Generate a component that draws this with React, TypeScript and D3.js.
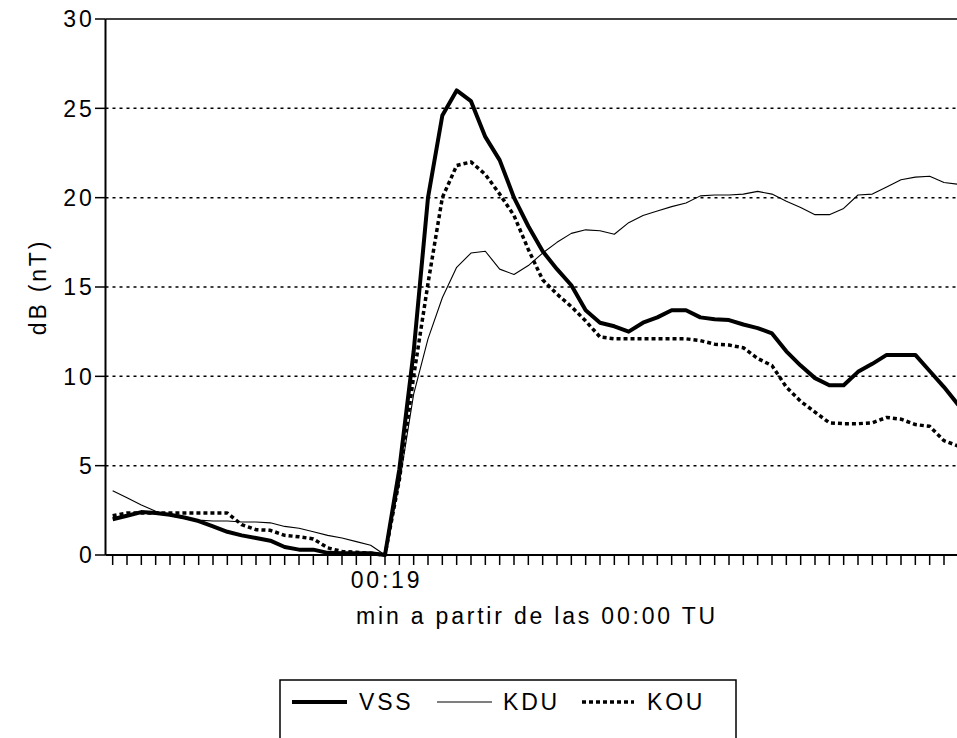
import React from "react";
import * as d3 from "d3";

// minute index after 00:00 TU
const minutes = d3.range(60);

const vss = [
  2.0, 2.2, 2.4, 2.35, 2.25, 2.1, 1.9, 1.6, 1.3, 1.1,
  0.95, 0.8, 0.45, 0.3, 0.3, 0.12, 0.1, 0.1, 0.1, 0.0,
  4.8, 11.4, 20.0, 24.6, 26.0, 25.4, 23.4, 22.1, 20.0, 18.4,
  17.0, 16.0, 15.1, 13.7, 13.0, 12.8, 12.5, 13.0, 13.3, 13.7,
  13.7, 13.3, 13.2, 13.15, 12.9, 12.7, 12.4, 11.4, 10.6, 9.9,
  9.5, 9.5, 10.25, 10.7, 11.2, 11.2, 11.2, 10.3, 9.4, 8.4,
];

const kdu = [
  3.6, 3.2, 2.8, 2.45, 2.2, 2.05, 1.95, 1.9, 1.9, 1.85,
  1.85, 1.8, 1.6, 1.5, 1.3, 1.1, 0.95, 0.75, 0.55, 0.0,
  4.0, 9.0, 12.1, 14.4, 16.1, 16.9, 17.0, 16.0, 15.7, 16.2,
  16.9, 17.5, 18.0, 18.2, 18.15, 17.95, 18.6, 19.0, 19.25, 19.5,
  19.7, 20.1, 20.15, 20.15, 20.2, 20.35, 20.2, 19.8, 19.45, 19.05,
  19.05, 19.4, 20.15, 20.2, 20.6, 21.0, 21.15, 21.2, 20.85, 20.75,
];

const kou = [
  2.2, 2.35, 2.35, 2.35, 2.35, 2.35, 2.35, 2.35, 2.35, 1.7,
  1.42, 1.38, 1.1, 1.02, 0.9, 0.4, 0.2, 0.15, 0.1, 0.0,
  4.2, 10.0, 15.2, 20.0, 21.8, 22.0, 21.3, 20.2, 19.0, 17.1,
  15.4, 14.6, 13.9, 13.1, 12.2, 12.1, 12.1, 12.1, 12.1, 12.1,
  12.1, 12.0, 11.8, 11.75, 11.6, 11.0, 10.6, 9.4, 8.6, 8.0,
  7.4, 7.35, 7.35, 7.4, 7.7, 7.6, 7.3, 7.2, 6.4, 6.1,
];

const yTicks = [0, 5, 10, 15, 20, 25, 30];
const gridValues = [5, 10, 15, 20, 25];
const xLabelMinutes = [19];
const xLabelTexts = ["00:19"];
const seriesNames = ["VSS", "KDU", "KOU"];
const yTitle = "dB (nT)";
const xTitle = "min a partir de las 00:00 TU";

const FONT = "'Liberation Sans', Arial, Helvetica, sans-serif";

export default function App() {
  const W = 957;
  const H = 738;
  const x = d3.scaleLinear().domain([-0.5, 59.5]).range([105.5, 965.5]);
  const y = d3.scaleLinear().domain([0, 30]).range([555, 19]);

  const mkLine = (vals: number[]) =>
    d3
      .line<number>()
      .x((_, i) => x(minutes[i]))
      .y((d) => y(d))(vals) || "";

  const styles = [
    { data: vss, sw: 4, dash: undefined as string | undefined },
    { data: kdu, sw: 1.1, dash: undefined as string | undefined },
    { data: kou, sw: 3.5, dash: "4,3" },
  ];

  const textStyle = {
    fontFamily: FONT,
    fontSize: 23,
    letterSpacing: "2.8px",
    fill: "#000",
  } as React.CSSProperties;

  const legendItems = [
    { x1: 292, x2: 347, tx: 359 },
    { x1: 437, x2: 492, tx: 503 },
    { x1: 582, x2: 634, tx: 647 },
  ];

  return (
    <svg
      width={W}
      height={H}
      style={{ position: "absolute", left: 0, top: 0, background: "#fff" }}
    >
      <rect x={0} y={0} width={W} height={H} fill="#fff" />
      {/* gridlines */}
      {gridValues.map((v) => (
        <line
          key={"g" + v}
          x1={x(-0.5)}
          x2={x(59.5)}
          y1={y(v)}
          y2={y(v)}
          stroke="#000"
          strokeWidth={1.5}
          strokeDasharray="3,4"
        />
      ))}
      {/* top border */}
      <line x1={x(-0.5)} x2={x(59.5)} y1={y(30)} y2={y(30)} stroke="#000" strokeWidth={1.5} />
      {/* y axis */}
      <line x1={x(-0.5)} x2={x(-0.5)} y1={y(30)} y2={y(0)} stroke="#000" strokeWidth={2} />
      {yTicks.map((v) => (
        <g key={"yt" + v}>
          <line x1={95} x2={x(-0.5)} y1={y(v)} y2={y(v)} stroke="#000" strokeWidth={1.5} />
          <text x={94.5} y={y(v)} dy="0.36em" textAnchor="end" style={textStyle}>
            {v}
          </text>
        </g>
      ))}
      {/* x axis */}
      <line x1={x(-0.5)} x2={x(59.5)} y1={y(0)} y2={y(0)} stroke="#000" strokeWidth={2} />
      {minutes.map((m) => (
        <line
          key={"xt" + m}
          x1={x(m)}
          x2={x(m)}
          y1={y(0)}
          y2={y(0) + 10}
          stroke="#000"
          strokeWidth={1.5}
        />
      ))}
      {xLabelMinutes.map((m, i) => (
        <text key={"xl" + m} x={x(m) + 1.5} y={588} textAnchor="middle" style={textStyle}>
          {xLabelTexts[i]}
        </text>
      ))}
      <text x={(x(-0.5) + x(59.5)) / 2 + 1.5} y={624} textAnchor="middle" style={textStyle}>
        {xTitle}
      </text>
      <text
        transform={`translate(46, ${(y(0) + y(30)) / 2}) rotate(-90)`}
        textAnchor="middle"
        style={textStyle}
      >
        {yTitle}
      </text>
      {/* series */}
      {styles.map((s, i) => (
        <path
          key={"s" + i}
          d={mkLine(s.data)}
          fill="none"
          stroke="#000"
          strokeWidth={s.sw}
          strokeDasharray={s.dash}
          strokeLinejoin="round"
        />
      ))}
      {/* legend */}
      <rect x={280} y={680} width={456} height={90} fill="#fff" stroke="#000" strokeWidth={1.5} />
      {seriesNames.map((name, i) => (
        <g key={"lg" + name}>
          <line
            x1={legendItems[i].x1}
            x2={legendItems[i].x2}
            y1={702}
            y2={702}
            stroke="#000"
            strokeWidth={styles[i].sw}
            strokeDasharray={styles[i].dash}
          />
          <text x={legendItems[i].tx} y={702} dy="0.36em" style={textStyle}>
            {name}
          </text>
        </g>
      ))}
    </svg>
  );
}
